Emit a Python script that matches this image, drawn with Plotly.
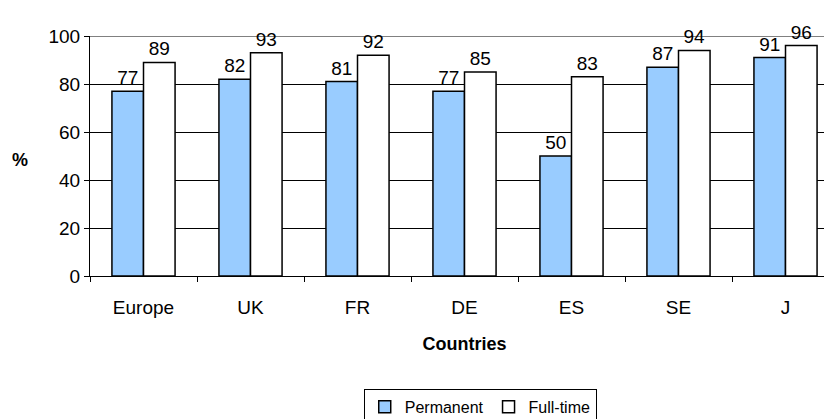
import plotly.graph_objects as go

countries = ["Europe", "UK", "FR", "DE", "ES", "SE", "J"]
permanent = [77, 82, 81, 77, 50, 87, 91]
full_time = [89, 93, 92, 85, 83, 94, 96]

fig = go.Figure()
fig.add_trace(go.Bar(x=countries, y=permanent, name="Permanent",
                     marker=dict(color="#99CCFF", line=dict(color="black", width=1.5)),
                     text=permanent, textposition="outside", cliponaxis=False,
                     textfont=dict(family="Arial", size=19, color="black")))
fig.add_trace(go.Bar(x=countries, y=full_time, name="Full-time",
                     marker=dict(color="white", line=dict(color="black", width=1.5)),
                     text=full_time, textposition="outside", cliponaxis=False,
                     textfont=dict(family="Arial", size=19, color="black")))

fig.update_layout(
    width=831, height=411,
    margin=dict(l=82, r=0, t=28, b=143, autoexpand=False),
    paper_bgcolor="white", plot_bgcolor="white",
    barmode="group", bargap=0.41, bargroupgap=0,
    font=dict(family="Arial", size=19, color="black"),
    showlegend=True,
    legend=dict(orientation="h", x=0.521, xanchor="center", y=-0.47, yanchor="top",
                bordercolor="black", borderwidth=1, font=dict(size=16),
                itemwidth=30, tracegroupgap=0),
    xaxis=dict(showline=True, linecolor="black", linewidth=1, automargin=False,
               ticks="outside", ticklen=5, tickcolor="black", tickson="boundaries",
               ticklabelstandoff=14, tickfont=dict(size=19),
               title=dict(text="<b>Countries</b>", font=dict(size=18), standoff=20)),
    yaxis=dict(range=[0, 100], tickvals=[0, 20, 40, 60, 80, 100], automargin=False,
               showline=True, linecolor="black", linewidth=1,
               ticks="outside", ticklen=5, tickcolor="black",
               showgrid=True, gridcolor="black", gridwidth=1,
               tickfont=dict(size=19), zeroline=False),
)
fig.add_shape(type="line", xref="paper", yref="y", x0=0, x1=1, y0=100, y1=100,
              line=dict(color="#808080", width=2), layer="below")
fig.add_annotation(text="<b>%</b>", xref="paper", yref="paper", x=-0.0935, y=0.483,
                   showarrow=False, font=dict(size=18), xanchor="center")

fig.write_html("out.html")
